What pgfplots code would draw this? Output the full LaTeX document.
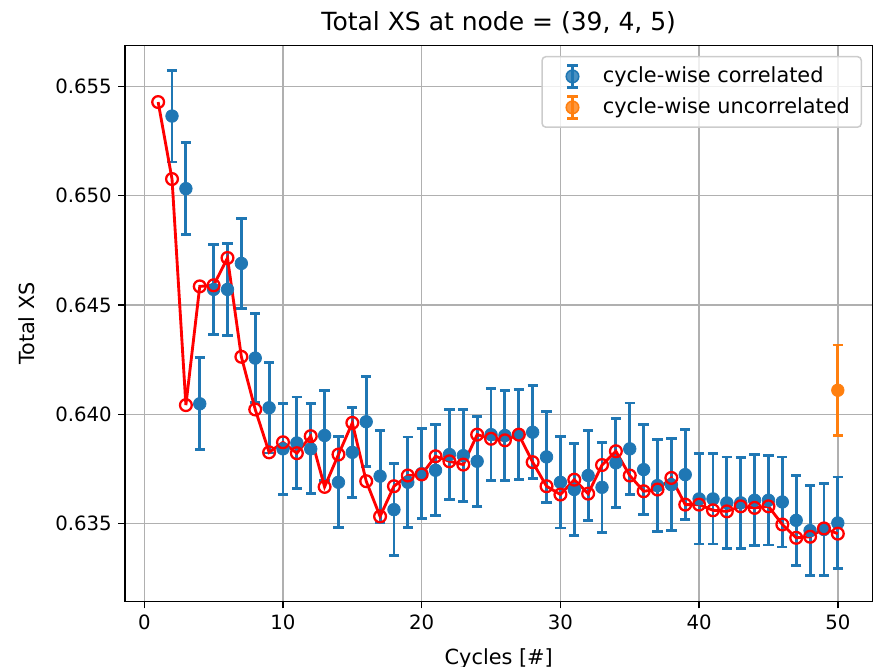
\documentclass[border=0pt]{standalone}
\usepackage{pgfplots}
\pgfplotsset{compat=1.18}
\usepackage{pgfplotstable}
\usepackage{fontspec}
\setmainfont{DejaVu Sans}
\definecolor{c1}{HTML}{1F77B4}
\definecolor{c2}{HTML}{FF7F0E}
\definecolor{gridc}{HTML}{B0B0B0}

\pgfplotstableread{
x y
1 0.65428
2 0.65076
3 0.64042
4 0.64585
5 0.64590
6 0.64715
7 0.64263
8 0.64022
9 0.63826
10 0.63872
11 0.63822
12 0.63900
13 0.63668
14 0.63816
15 0.63961
16 0.63694
17 0.63533
18 0.63671
19 0.63720
20 0.63725
21 0.63808
22 0.63785
23 0.63770
24 0.63907
25 0.63888
26 0.63881
27 0.63907
28 0.63781
29 0.63671
30 0.63633
31 0.63701
32 0.63637
33 0.63768
34 0.63831
35 0.63720
36 0.63648
37 0.63656
38 0.63709
39 0.63587
40 0.63587
41 0.63561
42 0.63556
43 0.63579
44 0.63572
45 0.63579
46 0.63496
47 0.63435
48 0.63440
49 0.63478
50 0.63454
}\redtab

\pgfplotstableread{
x y e
2 0.65364 0.00210
3 0.65032 0.00210
4 0.64048 0.00210
5 0.64571 0.00207
6 0.64571 0.00210
7 0.64690 0.00206
8 0.64257 0.00205
9 0.64030 0.00207
10 0.63842 0.00207
11 0.63869 0.00210
12 0.63842 0.00206
13 0.63903 0.00207
14 0.63689 0.00208
15 0.63826 0.00206
16 0.63966 0.00205
17 0.63717 0.00210
18 0.63564 0.00211
19 0.63689 0.00207
20 0.63729 0.00206
21 0.63744 0.00208
22 0.63816 0.00206
23 0.63811 0.00210
24 0.63785 0.00206
25 0.63907 0.00210
26 0.63903 0.00207
27 0.63907 0.00207
28 0.63918 0.00212
29 0.63805 0.00207
30 0.63689 0.00209
31 0.63656 0.00210
32 0.63720 0.00206
33 0.63666 0.00206
34 0.63778 0.00204
35 0.63842 0.00210
36 0.63747 0.00206
37 0.63674 0.00210
38 0.63678 0.00210
39 0.63724 0.00207
40 0.63613 0.00206
41 0.63613 0.00206
42 0.63595 0.00210
43 0.63595 0.00207
44 0.63607 0.00209
45 0.63607 0.00205
46 0.63599 0.00206
47 0.63515 0.00206
48 0.63468 0.00206
49 0.63473 0.00210
50 0.63503 0.00210
}\bluetab

\pgfplotstableread{
x y e
50 0.64110 0.00207
}\orangetab

\begin{document}
\begin{tikzpicture}
\useasboundingbox (-65.75bp,-34.3bp) rectangle (395.05bp,316.5bp);
\begin{axis}[
  at={(0,0)}, anchor=south west,
  scale only axis,
  width=393.2bp, height=292.6bp,
  xmin=-1.39, xmax=52.5,
  ymin=0.63143, ymax=0.65687,
  xtick={0,10,20,30,40,50},
  ytick={0.635,0.640,0.645,0.650,0.655},
  scaled y ticks=false,
  yticklabel style={/pgf/number format/.cd, fixed, fixed zerofill, precision=3},
  /pgf/number format/assume math mode=true,
  tick label style={font=\fontsize{10.4}{12}\selectfont, text=black},
  label style={font=\fontsize{11}{13}\selectfont},
  xlabel style={yshift=-3bp},
  ylabel style={yshift=4bp},
  title style={font=\fontsize{13.2}{15.8}\selectfont, yshift=-3.2bp},
  title={Total XS at node = (39, 4, 5)},
  xlabel={Cycles [\#]},
  ylabel={Total XS},
  grid=major,
  major grid style={draw=gridc, line width=0.8bp},
  axis line style={line width=0.8bp, black},
  tick pos=left,
  tick align=outside,
  major tick length=3.5bp,
  tick style={line width=0.8bp, black},
  legend cell align=left,
  legend style={at={(1,1)}, anchor=north east, xshift=-5.5bp, yshift=-5.5bp,
    draw=black!20, line width=0.8bp, rounded corners=2bp, fill=white, fill opacity=0.8, text opacity=1,
    font=\fontsize{11}{13}\selectfont, inner xsep=4bp, inner ysep=3.5bp, row sep=2.5bp},
]
\addplot[c1, only marks, mark=*, mark size=3.3bp, mark options={fill=c1, draw=c1},
  legend image code/.code={
    \path[draw=none] (0bp,0bp) -- (26bp,0bp);
    \draw[c1, line width=1.5bp, mark=none] (12bp,-5.8bp) -- (12bp,5.8bp);
    \draw[c1, line width=1.5bp, mark=none] (9.3bp,-5.8bp) -- (14.7bp,-5.8bp);
    \draw[c1, line width=1.5bp, mark=none] (9.3bp,5.8bp) -- (14.7bp,5.8bp);
    \fill[c1] (12bp,0bp) circle (3.3bp);
  },
  error bars/.cd, y dir=both, y explicit,
  error bar style={line width=1.5bp, c1},
  error mark options={rotate=90, mark size=2.7bp, line width=1.5bp, c1},
  ] table[x=x, y=y, y error=e] {\bluetab};
\addlegendentry{cycle-wise correlated}
\addplot[c2, only marks, mark=*, mark size=3.3bp, mark options={fill=c2, draw=c2},
  legend image code/.code={
    \path[draw=none] (0bp,0bp) -- (26bp,0bp);
    \draw[c2, line width=1.5bp, mark=none] (12bp,-5.8bp) -- (12bp,5.8bp);
    \draw[c2, line width=1.5bp, mark=none] (9.3bp,-5.8bp) -- (14.7bp,-5.8bp);
    \draw[c2, line width=1.5bp, mark=none] (9.3bp,5.8bp) -- (14.7bp,5.8bp);
    \fill[c2] (12bp,0bp) circle (3.3bp);
  },
  error bars/.cd, y dir=both, y explicit,
  error bar style={line width=1.5bp, c2},
  error mark options={rotate=90, mark size=2.7bp, line width=1.5bp, c2},
  ] table[x=x, y=y, y error=e] {\orangetab};
\addlegendentry{cycle-wise uncorrelated}
\addplot[red, line width=1.5bp, mark=o, mark size=3.1bp, mark options={line width=1.2bp, draw=red}, forget plot]
  table[x=x, y=y] {\redtab};
\end{axis}
\end{tikzpicture}
\end{document}
